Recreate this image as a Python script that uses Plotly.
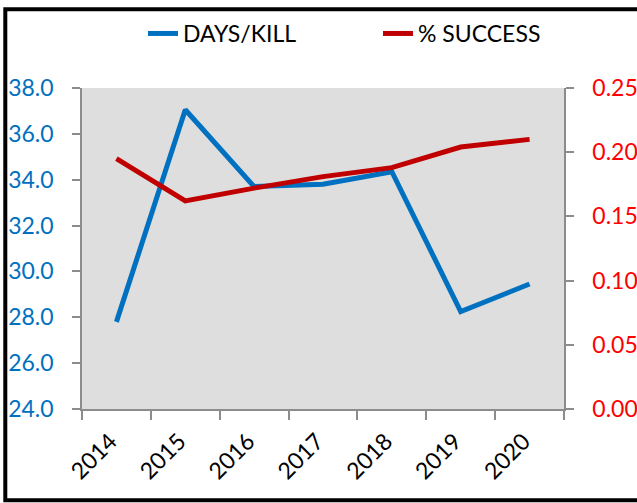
import plotly.graph_objects as go

years = ["2014", "2015", "2016", "2017", "2018", "2019", "2020"]
days_per_kill = [27.8, 37.05, 33.7, 33.8, 34.35, 28.25, 29.45]
pct_success = [0.195, 0.162, 0.172, 0.181, 0.188, 0.204, 0.210]

FONT = "Lato"
BLUE = "#0070C0"
RED = "#C00000"
AXIS = "#8C8C8C"

fig = go.Figure()
fig.add_trace(go.Scatter(x=years, y=days_per_kill, name="DAYS/KILL", mode="lines",
                         line=dict(color=BLUE, width=5), yaxis="y"))
fig.add_trace(go.Scatter(x=years, y=pct_success, name="% SUCCESS", mode="lines",
                         line=dict(color=RED, width=5), yaxis="y2"))

L, R, T, B = 82, 73, 85, 94
W, H = 637, 503
pw, ph = W - L - R, H - T - B

def px(xp):
    return (xp - L) / pw

def py(yp):
    return (H - B - yp) / ph

fig.update_layout(
    width=W, height=H,
    margin=dict(l=L, r=R, t=T, b=B, pad=0),
    paper_bgcolor="white",
    plot_bgcolor="#DEDEDE",
    font=dict(family=FONT, size=23, color="black"),
    showlegend=True,
    legend=dict(orientation="h", x=px(143), xanchor="left", y=py(30), yanchor="middle",
                font=dict(family=FONT, size=23, color="black"), bgcolor="rgba(0,0,0,0)",
                itemwidth=30, traceorder="normal", entrywidth=190),
    xaxis=dict(type="category", range=[-0.5, 6.5], tickson="boundaries", ticks="outside", ticklen=9,
               tickcolor=AXIS, tickwidth=1.5, showline=True, linecolor=AXIS, linewidth=1.5,
               showgrid=False, zeroline=False, tickangle=-45, automargin=False,
               tickfont=dict(family=FONT, size=23, color="black"), ticklabelstandoff=8,
               ticklabelshift=-6),
    yaxis=dict(range=[24, 38], dtick=2, tickformat=".1f", ticks="outside", ticklen=8,
               tickcolor=AXIS, tickwidth=1.5, showline=True, linecolor=AXIS, linewidth=1.5,
               showgrid=False, zeroline=False, automargin=False,
               tickfont=dict(family=FONT, size=23, color=BLUE), ticklabelstandoff=14),
    yaxis2=dict(range=[0, 0.25], dtick=0.05, tickformat=".2f", overlaying="y", side="right",
                ticks="outside", ticklen=8, tickcolor=AXIS, tickwidth=1.5, showline=True,
                linecolor=AXIS, linewidth=1.5, showgrid=False, zeroline=False, automargin=False,
                tickfont=dict(family=FONT, size=23, color="#FF0000"), ticklabelstandoff=14),
    shapes=[dict(type="rect", xref="paper", yref="paper",
                 x0=px(5.3), x1=px(700), y0=py(501), y1=py(5.5),
                 line=dict(color="black", width=4), fillcolor="rgba(0,0,0,0)", layer="above")],
)

fig.write_html("out.html", config={"displayModeBar": False},
               post_script="document.body.style.margin='0';document.body.style.padding='0';"
                           "document.body.style.overflow='hidden';")
